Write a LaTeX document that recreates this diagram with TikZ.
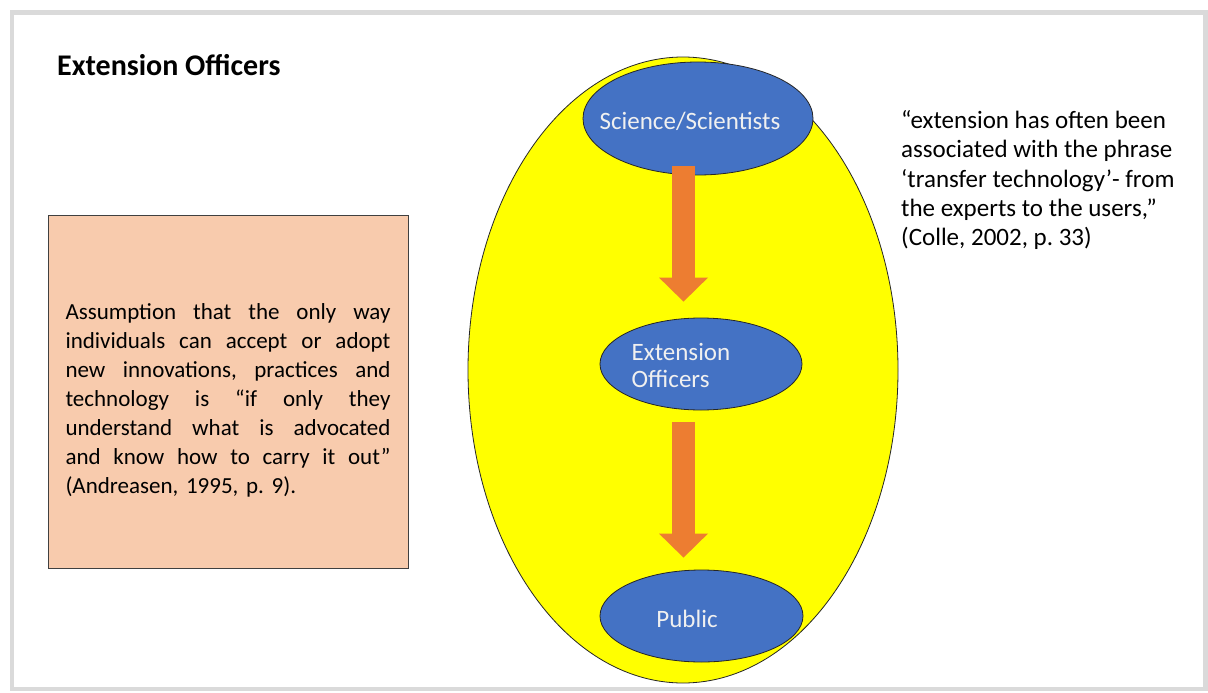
\documentclass[tikz,border=0pt]{standalone}
\usepackage{fontspec}
\setmainfont{Carlito}
\usepackage{xcolor}
\usepackage{tikz}
\usetikzlibrary{arrows.meta,shapes.geometric}

\definecolor{fieldyellow}{HTML}{FFFF00}
\definecolor{actorblue}{HTML}{4472C4}
\definecolor{floworange}{HTML}{ED7D31}
\definecolor{notepeach}{HTML}{F8CBAD}
\definecolor{framegray}{HTML}{DADADA}

% one justified line of the note, stretched to the full width
\newcommand{\spreadline}[1]{\makebox[325pt][s]{\spaceskip=0.22em plus 1fil\relax #1}}

\begin{document}
\frenchspacing
\begin{tikzpicture}[x=1pt, y=-1pt, font=\fontsize{23}{28.9}\selectfont,
    actor/.style={ellipse, draw=black!85, line width=0.8pt, fill=actorblue, inner sep=0pt},
    actortext/.style={text=white!94!black, align=left, font=\fontsize{25}{27}\selectfont},
    flow/.style={floworange, line width=23pt, -{Triangle[width=49pt, length=24pt, line width=0pt]}}]
    \useasboundingbox (0, 0) rectangle (1208, 693);
    \fill[white] (0, 0) rectangle (1208, 693);
    % slide frame
    \draw[framegray, line width=4.5pt] (12, 12.5) rectangle (1205.5, 689);
    \node[anchor=base west, inner sep=0pt, font=\bfseries\fontsize{30}{34}\selectfont] (title) at (57, 75) {Extension Officers};

    % the big field and the three actors
    \node[ellipse, draw=black!85, line width=0.8pt, fill=fieldyellow, minimum width=430pt, minimum height=626pt] (field) at (683, 370) {};
    \node[actor, minimum width=230pt, minimum height=113pt, label={[actortext, xshift=-8pt, yshift=-3pt]center:Science/Scientists}] (sci) at (698, 118.5) {};
    \node[actor, minimum width=202pt, minimum height=92pt, label={[actortext, xshift=-20pt, yshift=-1pt]center:Extension\\Officers}] (ext) at (701, 364) {};
    \node[actor, minimum width=203pt, minimum height=92pt, label={[actortext, xshift=-14.5pt, yshift=-3pt]center:Public}] (pub) at (701.5, 616) {};

    % transfer arrows
    \draw[flow, shorten <=-9pt, shorten >=16pt] ([xshift=-14.5pt]sci.south) -- ([xshift=-17.5pt]ext.north);
    \draw[flow, shorten <=12pt, shorten >=12pt] ([xshift=-17.5pt]ext.south) -- ([xshift=-18pt]pub.north);

    % note on the left
    \node[draw=black!75, line width=0.8pt, fill=notepeach, minimum width=360pt, minimum height=353pt] (note) at (228, 391.5) {};
    \node[text width=325pt, inner sep=0pt] (notetext) at ([yshift=-9pt]note.center) {%
        \spreadline{Assumption that the only way}\\
        \spreadline{individuals can accept or adopt}\\
        \spreadline{new innovations, practices and}\\
        \spreadline{technology is “if only they}\\
        \spreadline{understand what is advocated}\\
        \spreadline{and know how to carry it out”}\\
        (Andreasen, 1995, p. 9).};

    % quote on the right
    \node[anchor=north west, align=left, inner sep=0pt, font=\fontsize{25}{29.2}\selectfont] (quote) at (901, 110.5) {“extension has often been\\
        associated with the phrase\\
        ‘transfer technology’- from\\
        the experts to the users,”\\
        (Colle, 2002, p. 33)};
\end{tikzpicture}
\end{document}
